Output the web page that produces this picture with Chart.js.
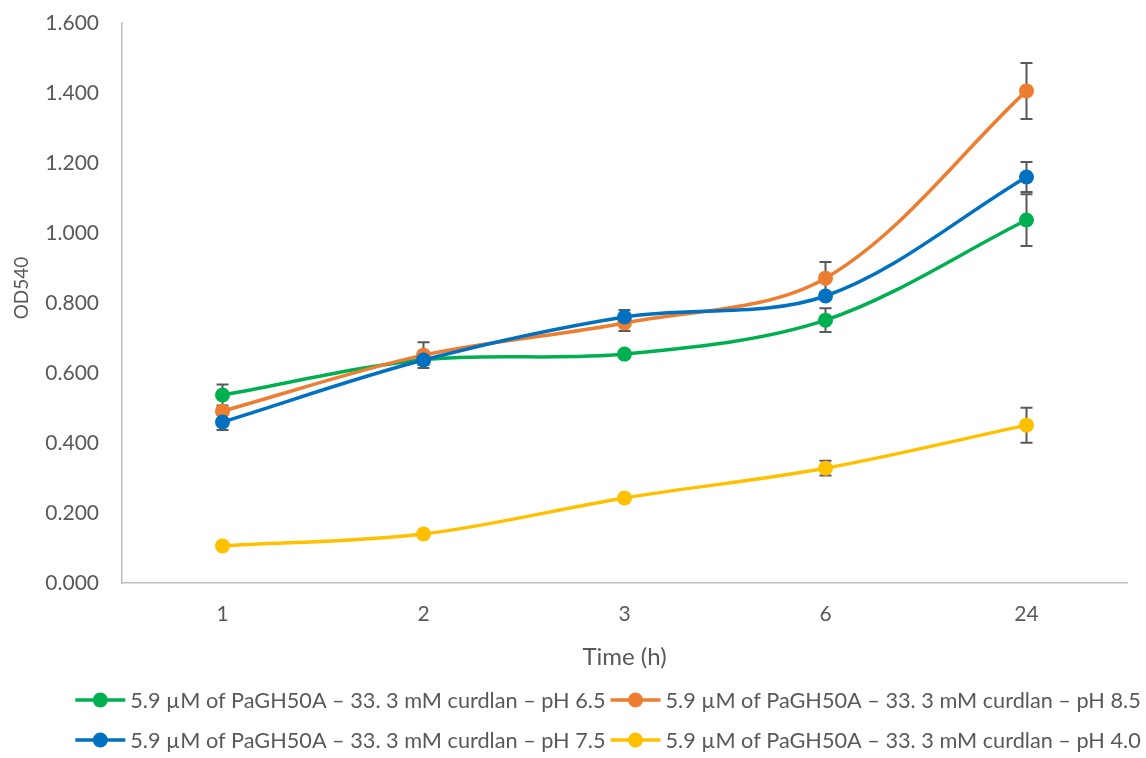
<!DOCTYPE html>
<html>
<head>
<meta charset="utf-8">
<script src="https://cdn.jsdelivr.net/npm/chart.js@4.4.1/dist/chart.umd.min.js"></script>
<style>
  html, body { margin: 0; padding: 0; background: #ffffff; }
  #wrap { width: 1146px; height: 758px; position: relative; }
</style>
</head>
<body>
<div id="wrap"><canvas id="c" width="1146" height="758"></canvas></div>
<script>
// Sampling times (h)
const timeLabels = ['1', '2', '3', '6', '24'];

// Mean OD540 per condition
const seriesNames = [
  '5.9 µM of PaGH50A – 33. 3 mM curdlan – pH 6.5',
  '5.9 µM of PaGH50A – 33. 3 mM curdlan – pH 8.5',
  '5.9 µM of PaGH50A – 33. 3 mM curdlan – pH 7.5',
  '5.9 µM of PaGH50A – 33. 3 mM curdlan – pH 4.0'
];
const odPH65 = [0.537, 0.638, 0.654, 0.751, 1.037];
const odPH85 = [0.491, 0.651, 0.743, 0.871, 1.406];
const odPH75 = [0.460, 0.637, 0.760, 0.820, 1.160];
const odPH40 = [0.106, 0.140, 0.243, 0.328, 0.451];

// Standard deviations
const sdPH65 = [0.030, 0.010, 0.010, 0.034, 0.074];
const sdPH85 = [0.010, 0.037, 0.023, 0.046, 0.080];
const sdPH75 = [0.023, 0.014, 0.020, 0.010, 0.043];
const sdPH40 = [0.005, 0.005, 0.005, 0.021, 0.050];

const yTitle = 'OD540';
const xTitle = 'Time (h)';

const colors = ['#00B050', '#ED7D31', '#0070C0', '#FFC000'];
const TEXT = '#595959';
const FONT = 'Lato, "Open Sans", sans-serif';

function ds(i, data, sd, order) {
  return {
    label: seriesNames[i],
    data: data,
    sd: sd,
    borderColor: colors[i],
    backgroundColor: colors[i],
    borderWidth: 3.5,
    pointRadius: 7.5,
    pointHoverRadius: 7.5,
    pointBorderWidth: 0,
    tension: 0.33,
    order: order
  };
}

// Vertical error bars with caps, drawn beneath the lines and markers
const errorBars = {
  id: 'errorBars',
  beforeDatasetsDraw(chart) {
    const ctx = chart.ctx;
    const y = chart.scales.y;
    ctx.save();
    ctx.strokeStyle = '#595959';
    ctx.lineWidth = 2;
    chart.data.datasets.forEach((d, di) => {
      const meta = chart.getDatasetMeta(di);
      meta.data.forEach((pt, i) => {
        const e = d.sd[i];
        if (!e) return;
        const x = pt.x;
        const yTop = y.getPixelForValue(d.data[i] + e);
        const yBot = y.getPixelForValue(d.data[i] - e);
        ctx.beginPath();
        ctx.moveTo(x, yTop); ctx.lineTo(x, yBot);
        ctx.moveTo(x - 6, yTop); ctx.lineTo(x + 6, yTop);
        ctx.moveTo(x - 6, yBot); ctx.lineTo(x + 6, yBot);
        ctx.stroke();
      });
    });
    ctx.restore();
  }
};

// Rotated y-axis title, sitting a little above the axis midpoint
const yAxisTitle = {
  id: 'yAxisTitle',
  afterDraw(chart) {
    const ctx = chart.ctx;
    const a = chart.chartArea;
    ctx.save();
    ctx.translate(22, (a.top + a.bottom) / 2 - 15);
    ctx.rotate(-Math.PI / 2);
    ctx.font = '19px ' + FONT;
    ctx.fillStyle = TEXT;
    ctx.textAlign = 'center';
    ctx.textBaseline = 'middle';
    ctx.fillText(yTitle, 0, 0);
    ctx.restore();
  }
};

// Two-column legend below the axis title: line + marker, then label
const bottomLegend = {
  id: 'bottomLegend',
  afterDraw(chart) {
    const ctx = chart.ctx;
    const sets = chart.data.datasets;
    ctx.save();
    ctx.font = '21.7px ' + FONT;
    ctx.textBaseline = 'middle';
    ctx.textAlign = 'left';
    const symW = 50, txtGap = 5, colGap = 5;
    let maxText = 0;
    sets.forEach(d => { maxText = Math.max(maxText, ctx.measureText(d.label).width); });
    const colW = symW + txtGap + maxText;
    const centerX = 608;
    const startX = centerX - (2 * colW + colGap) / 2;
    const rowY = [700, 740];
    sets.forEach((d, i) => {
      const col = i % 2, row = Math.floor(i / 2);
      const x0 = startX + col * (colW + colGap);
      const yy = rowY[row];
      ctx.strokeStyle = d.borderColor;
      ctx.lineWidth = 3.5;
      ctx.beginPath();
      ctx.moveTo(x0, yy); ctx.lineTo(x0 + symW, yy);
      ctx.stroke();
      ctx.fillStyle = d.backgroundColor;
      ctx.beginPath();
      ctx.arc(x0 + symW / 2, yy, 7.5, 0, Math.PI * 2);
      ctx.fill();
      ctx.fillStyle = TEXT;
      ctx.fillText(d.label, x0 + symW + txtGap, yy + 1);
    });
    ctx.restore();
  }
};

new Chart(document.getElementById('c'), {
  type: 'line',
  data: {
    labels: timeLabels,
    datasets: [
      ds(0, odPH65, sdPH65, 3),
      ds(1, odPH85, sdPH85, 2),
      ds(2, odPH75, sdPH75, 1),
      ds(3, odPH40, sdPH40, 0)
    ]
  },
  options: {
    responsive: false,
    animation: false,
    devicePixelRatio: 1,
    layout: { padding: { left: 0, top: 23, right: 19, bottom: 85 } },
    plugins: {
      legend: { display: false },
      tooltip: { enabled: false }
    },
    scales: {
      x: {
        offset: true,
        grid: { display: false, drawTicks: false },
        border: { display: true, color: '#BFBFBF', width: 1.5 },
        ticks: { color: TEXT, font: { family: FONT, size: 21 }, padding: 19 },
        title: {
          display: true, text: xTitle, color: TEXT,
          font: { family: FONT, size: 24 }, padding: { top: 0, bottom: 1 }
        },
        afterFit(s) { s.height = 90; }
      },
      y: {
        min: 0, max: 1.6,
        grid: { display: false, drawTicks: false },
        border: { display: true, color: '#BFBFBF', width: 1.5 },
        ticks: {
          stepSize: 0.2, color: TEXT, padding: 23,
          font: { family: FONT, size: 21 },
          callback: v => Number(v).toFixed(3)
        },
        afterFit(s) { s.width = 122; s.paddingTop = 0; s.paddingBottom = 0; }
      }
    }
  },
  plugins: [errorBars, yAxisTitle, bottomLegend]
});
</script>
</body>
</html>
